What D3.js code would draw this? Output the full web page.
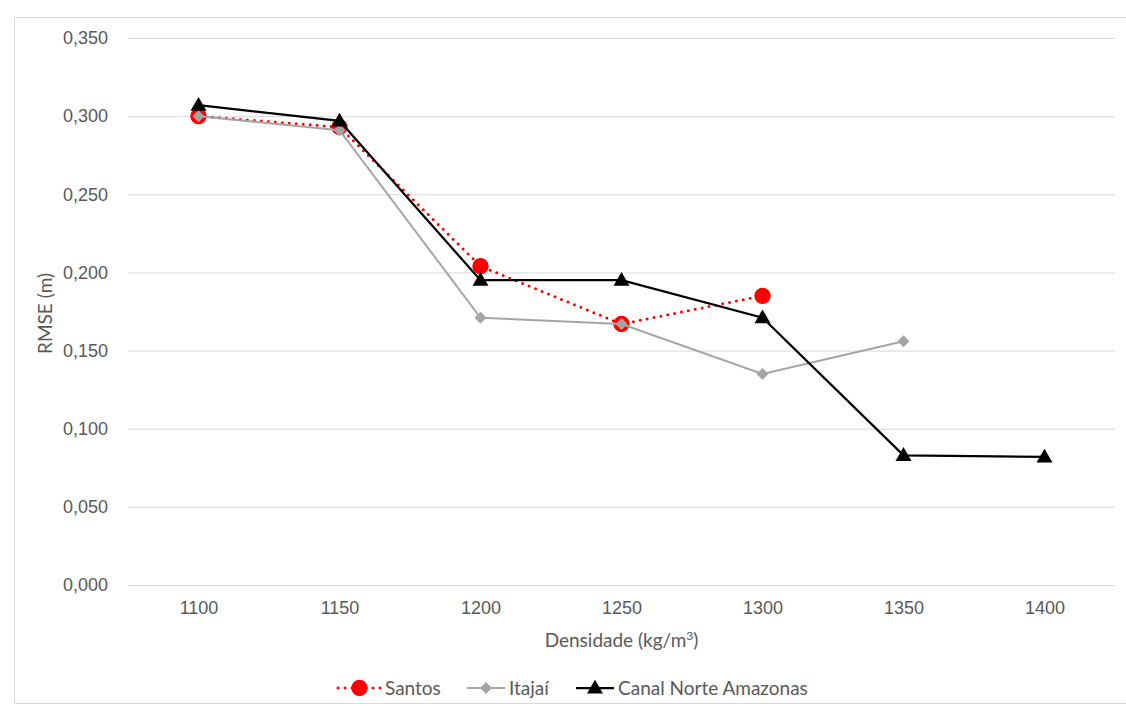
<!DOCTYPE html>
<html>
<head>
<meta charset="utf-8">
<script src="https://cdn.jsdelivr.net/npm/d3@7"></script>
<style>
  html, body { margin: 0; padding: 0; background: #fff; }
  svg { display: block; font-family: Lato, "Open Sans", sans-serif; }
</style>
</head>
<body>
<svg id="chart" width="1126" height="710"></svg>
<script>
// Densities on the x axis (kg/m³)
const densidades = ["1100", "1150", "1200", "1250", "1300", "1350", "1400"];

// RMSE (m) per site; null where there is no run
const santos = [0.300, 0.293, 0.204, 0.167, 0.185, null, null];
const itajai = [0.300, 0.291, 0.171, 0.167, 0.135, 0.156, null];
const canalNorte = [0.307, 0.297, 0.195, 0.195, 0.171, 0.083, 0.082];

const yTicks = [0, 0.05, 0.10, 0.15, 0.20, 0.25, 0.30, 0.35];

const svg = d3.select("#chart");

// outer chart frame
svg.append("rect")
  .attr("x", 14.5).attr("y", 17.5)
  .attr("width", 1126).attr("height", 686)
  .attr("fill", "none").attr("stroke", "#d9d9d9");

const plot = { left: 128, right: 1115, top: 38, bottom: 585 };

const x = d3.scalePoint()
  .domain(densidades)
  .range([plot.left, plot.right])
  .padding(0.5);

const y = d3.scaleLinear()
  .domain([0, 0.35])
  .range([plot.bottom, plot.top]);

const fmt = v => d3.format(".3f")(v).replace(".", ",");
const textColor = "#595959";

// horizontal gridlines + y labels
const yAxis = d3.axisLeft(y)
  .tickValues(yTicks)
  .tickSize(-(plot.right - plot.left))
  .tickPadding(20)
  .tickFormat(fmt);

const gy = svg.append("g")
  .attr("transform", `translate(${plot.left},0)`)
  .call(yAxis);
gy.select(".domain").remove();
gy.selectAll(".tick line").attr("stroke", "#d9d9d9").attr("stroke-width", 1);
gy.selectAll(".tick text")
  .attr("fill", textColor)
  .style("font-size", "18px");

// x labels
const xAxis = d3.axisBottom(x).tickSize(0).tickPadding(16);
const gx = svg.append("g")
  .attr("transform", `translate(0,${plot.bottom})`)
  .call(xAxis);
gx.select(".domain").remove();
gx.selectAll(".tick text")
  .attr("fill", textColor)
  .style("font-size", "18px");

// axis titles
svg.append("text")
  .attr("transform", `translate(52,${(plot.top + plot.bottom) / 2 + 2}) rotate(-90)`)
  .attr("text-anchor", "middle")
  .attr("fill", textColor)
  .style("font-size", "19px")
  .text("RMSE (m)");

const xt = svg.append("text")
  .attr("x", (plot.left + plot.right) / 2)
  .attr("y", 647)
  .attr("text-anchor", "middle")
  .attr("fill", textColor)
  .style("font-size", "19px");
xt.append("tspan").text("Densidade (kg/m");
xt.append("tspan").attr("dy", -7).style("font-size", "12px").text("3");
xt.append("tspan").attr("dy", 7).text(")");

// series definitions
const series = [
  { name: "Santos", values: santos, color: "#ff0000", width: 3, dash: "0,7", cap: "round", marker: "circle" },
  { name: "Itajaí", values: itajai, color: "#a5a5a5", width: 2, dash: null, cap: "butt", marker: "diamond" },
  { name: "Canal Norte Amazonas", values: canalNorte, color: "#000000", width: 2.25, dash: null, cap: "butt", marker: "triangle" }
];

const symbolOf = {
  circle: d3.symbol(d3.symbolCircle, 210),
  diamond: d3.symbol(d3.symbolSquare, 72),
  triangle: d3.symbol(d3.symbolTriangle, 110)
};
const markerTransform = (m, px, py) =>
  m === "diamond" ? `translate(${px},${py}) rotate(45)`
  : m === "triangle" ? `translate(${px},${py + 1})`
  : `translate(${px},${py})`;

const line = d3.line()
  .defined(d => d.v !== null)
  .x(d => x(d.k))
  .y(d => y(d.v));

series.forEach(s => {
  const pts = densidades.map((k, i) => ({ k, v: s.values[i] }));
  const g = svg.append("g");
  g.append("path")
    .datum(pts)
    .attr("d", line)
    .attr("fill", "none")
    .attr("stroke", s.color)
    .attr("stroke-width", s.width)
    .attr("stroke-linecap", s.cap)
    .attr("stroke-dasharray", s.dash);
  g.selectAll("path.m")
    .data(pts.filter(d => d.v !== null))
    .join("path")
    .attr("class", "m")
    .attr("d", symbolOf[s.marker])
    .attr("transform", d => markerTransform(s.marker, x(d.k), y(d.v)))
    .attr("fill", s.color);
});

// legend
const legendItems = [
  { s: series[0], x0: 338, tx: 385 },
  { s: series[1], x0: 467, tx: 509 },
  { s: series[2], x0: 576, tx: 618 }
];
const ly = 688;
legendItems.forEach(({ s, x0, tx }) => {
  const g = svg.append("g");
  g.append("line")
    .attr("x1", x0).attr("x2", tx - 4)
    .attr("y1", ly).attr("y2", ly)
    .attr("stroke", s.color)
    .attr("stroke-width", s.width)
    .attr("stroke-linecap", s.cap)
    .attr("stroke-dasharray", s.dash);
  g.append("path")
    .attr("d", symbolOf[s.marker])
    .attr("transform", markerTransform(s.marker, (x0 + tx - 4) / 2, ly))
    .attr("fill", s.color);
  g.append("text")
    .attr("x", tx).attr("y", ly)
    .attr("dy", "0.35em")
    .attr("fill", textColor)
    .style("font-size", "19px")
    .text(s.name);
});
</script>
</body>
</html>
